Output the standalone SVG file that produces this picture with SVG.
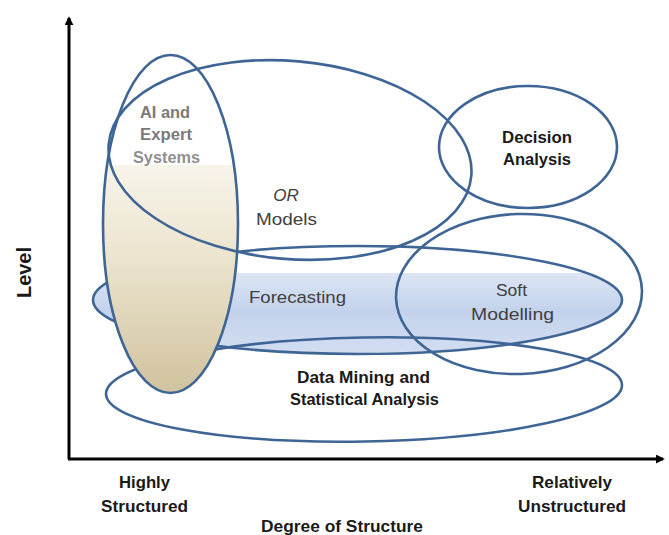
<svg xmlns="http://www.w3.org/2000/svg" width="669" height="535" viewBox="0 0 669 535">
<defs>
<linearGradient id="gAI" x1="0" y1="0" x2="0" y2="1">
<stop offset="0" stop-color="#ffffff"/>
<stop offset="0.325" stop-color="#ffffff"/>
<stop offset="0.325" stop-color="#F7F4EA"/>
<stop offset="0.6" stop-color="#EBE4CE"/>
<stop offset="1" stop-color="#D0C29E"/>
</linearGradient>
<linearGradient id="gFc" x1="0" y1="0" x2="0" y2="1">
<stop offset="0" stop-color="#ffffff"/>
<stop offset="0.25" stop-color="#ffffff"/>
<stop offset="0.25" stop-color="#DCE5F4"/>
<stop offset="0.6" stop-color="#C3D2EC"/>
<stop offset="1" stop-color="#D2DDF1"/>
</linearGradient>
<marker id="arr" viewBox="0 0 10 10" refX="8" refY="5" markerWidth="3" markerHeight="3" orient="auto" markerUnits="strokeWidth">
<path d="M0,0 L10,5 L0,10 z" fill="#000"/>
</marker>
</defs>
<style>
.ring{fill:none;stroke:#3F6595;stroke-width:2.6}
.t{font-family:"Liberation Sans",Arial,sans-serif;font-size:17px;text-anchor:middle;fill:#404040}
.b{font-weight:bold;fill:#1a1a1a}
.g{font-weight:bold;fill:#7a7a7a}
.ax{stroke:#000;stroke-width:3;fill:none}
</style>

<g id="connectors">
<line class="ax" x1="69" y1="459" x2="69" y2="18" marker-end="url(#arr)"/>
<line class="ax" x1="68" y1="459" x2="663" y2="459" marker-end="url(#arr)"/>
</g>

<g id="forecasting">
<ellipse cx="357.5" cy="300" rx="264.5" ry="54" fill="url(#gFc)" stroke="#3F6595" stroke-width="2.6"/>
<text class="t" x="297.5" y="303" textLength="97" lengthAdjust="spacingAndGlyphs">Forecasting</text>
</g>

<g id="datamining">
<ellipse class="ring" cx="364" cy="389.5" rx="258" ry="52" transform="rotate(-1 364 389.5)"/>
<text class="t b" x="363.5" y="383" textLength="133" lengthAdjust="spacingAndGlyphs">Data Mining and</text>
<text class="t b" x="364.5" y="405" textLength="149" lengthAdjust="spacingAndGlyphs">Statistical Analysis</text>
</g>

<g id="ai">
<ellipse cx="170.5" cy="224" rx="67.5" ry="169" fill="url(#gAI)" stroke="#3F6595" stroke-width="2.6"/>
<text class="t g" x="165" y="118" textLength="50" lengthAdjust="spacingAndGlyphs">AI and</text>
<text class="t g" x="166" y="140" textLength="52" lengthAdjust="spacingAndGlyphs">Expert</text>
<text class="t g" x="166.5" y="163" textLength="67" lengthAdjust="spacingAndGlyphs" fill-opacity="0.85">Systems</text>
</g>

<g id="or">
<ellipse class="ring" cx="290" cy="160" rx="182" ry="99" transform="rotate(5 290 160)"/>
<text class="t" x="286" y="201" font-style="italic">OR</text>
<text class="t" x="286.5" y="225" textLength="61" lengthAdjust="spacingAndGlyphs">Models</text>
</g>

<g id="decision">
<ellipse class="ring" cx="528" cy="147" rx="89" ry="61"/>
<text class="t b" x="537" y="143" textLength="70" lengthAdjust="spacingAndGlyphs">Decision</text>
<text class="t b" x="537" y="165" textLength="68" lengthAdjust="spacingAndGlyphs">Analysis</text>
</g>

<g id="soft">
<ellipse class="ring" cx="519" cy="294" rx="123" ry="80" transform="rotate(-2 519 294)"/>
<text class="t" x="511.5" y="296" textLength="31" lengthAdjust="spacingAndGlyphs">Soft</text>
<text class="t" x="512.5" y="320" textLength="83" lengthAdjust="spacingAndGlyphs">Modelling</text>
</g>

<g id="axis-labels">
<text class="t b" x="23.5" y="272.5" transform="rotate(-90 23.5 272.5)" dy="7" font-size="20" textLength="51" lengthAdjust="spacingAndGlyphs" style="font-size:20px">Level</text>
<text class="t b" x="144.5" y="488" textLength="51" lengthAdjust="spacingAndGlyphs">Highly</text>
<text class="t b" x="144.5" y="512" textLength="87" lengthAdjust="spacingAndGlyphs">Structured</text>
<text class="t b" x="572" y="488" textLength="80" lengthAdjust="spacingAndGlyphs">Relatively</text>
<text class="t b" x="572" y="512" textLength="108" lengthAdjust="spacingAndGlyphs">Unstructured</text>
<text class="t b" x="342" y="532" textLength="162" lengthAdjust="spacingAndGlyphs">Degree of Structure</text>
</g>
</svg>
